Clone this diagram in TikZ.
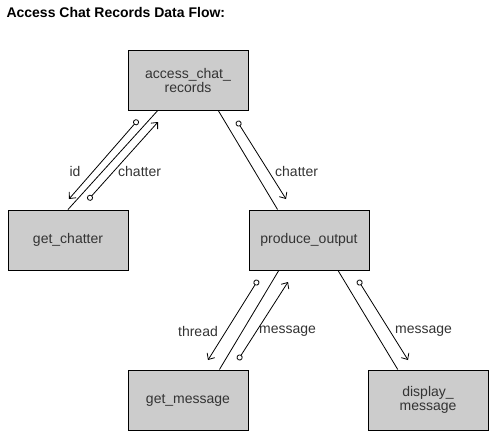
\documentclass[tikz,border=0pt]{standalone}
\usepackage{fontspec}
\setmainfont{Liberation Sans}
\usetikzlibrary{arrows.meta,calc}
\definecolor{boxgray}{HTML}{CCCCCC}
\definecolor{textgray}{HTML}{333333}
\tikzset{
  module/.style={draw, line width=1pt, fill=boxgray, minimum width=120pt, minimum height=60pt,
    inner sep=0pt, align=center, text=textgray, font=\fontsize{14}{14}\selectfont},
  couple/.style={{Circle[open,length=6pt,width=6pt]}-{Straight Barb[length=5pt,width=9pt]}, line width=0.8pt},
  flowlabel/.style={inner sep=0pt, text=textgray, font=\fontsize{14}{15}\selectfont}
}
\begin{document}
\begin{tikzpicture}[x=1pt,y=-1pt]
\useasboundingbox (0,0) rectangle (489,431);
\node (title) [anchor=west, font=\fontsize{14}{15}\selectfont\bfseries] at (3,12) {Access Chat Records Data Flow:};
% modules
\node (acr) [module] at (188,80) {access\_chat\_\\records};
\node (gc) [module] at (68,240) {get\_chatter};
\node (po) [module] at (309,240) {produce\_output};
\node (gm) [module] at (188,400) {get\_message};
\node (dm) [module] at (428,400) {display\_\\message};
% calls
\draw [line width=0.8pt] ($(acr.south west)!0.25!(acr.south east)$) -- (gc.north);
\draw [line width=0.8pt] ($(acr.south west)!0.75!(acr.south east)$) -- ($(po.north west)!0.24!(po.north east)$);
\draw [line width=0.8pt] ($(po.south west)!0.25!(po.south east)$) -- ($(gm.north west)!0.76!(gm.north east)$);
\draw [line width=0.8pt] ($(po.south west)!0.74!(po.south east)$) -- ($(dm.north west)!0.25!(dm.north east)$);
% data couples
\coordinate (id1) at (138,120); \coordinate (id2) at (69,199);
\coordinate (ch1) at (88,200); \coordinate (ch2) at (158,122);
\coordinate (cp1) at (237,121); \coordinate (cp2) at (286,199);
\coordinate (th1) at (258,280); \coordinate (th2) at (208,360);
\coordinate (ms1) at (238,360); \coordinate (ms2) at (288,282);
\coordinate (md1) at (358,280); \coordinate (md2) at (408,360);
\draw [couple] (id1) -- (id2);
\draw [couple] (ch1) -- (ch2);
\draw [couple] (cp1) -- (cp2);
\draw [couple] (th1) -- (th2);
\draw [couple] (ms1) -- (ms2);
\draw [couple] (md1) -- (md2);
\node (lid) [flowlabel] at (75,171) {id};
\node (lch) [flowlabel, anchor=west] at (118,171) {chatter};
\node (lcp) [flowlabel, anchor=west] at (275,171) {chatter};
\node (lth) [flowlabel] at (198,331) {thread};
\node (lms) [flowlabel, anchor=west] at (259,331) {message};
\node (lmd) [flowlabel, anchor=west] at (395,331) {message};
\end{tikzpicture}
\end{document}
